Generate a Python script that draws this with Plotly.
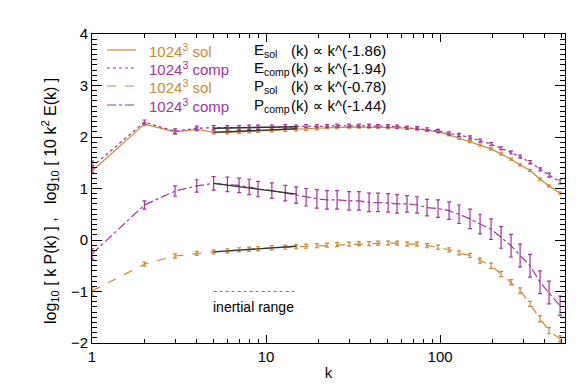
import plotly.graph_objects as go

# wavenumbers of the binned spectra
k = [1, 2, 3, 4, 5, 6, 7, 8, 9, 10.8, 12.9, 14.9, 17.0, 19.6, 22.4, 25.6, 30.0, 34.2,
     39.1, 44.0, 50.3, 56.6, 64.6, 73.8, 84.2, 97.4, 112.7, 128.6, 148.6, 169.8,
     196.4, 224.3, 255.9, 288.4, 328.9, 375.5, 423.0, 489.5]

# log10[10 k^2 E(k)]
e_sol = [1.34, 2.25, 2.10, 2.15, 2.09, 2.09, 2.10, 2.11, 2.12, 2.13, 2.14, 2.15, 2.16,
         2.17, 2.18, 2.18, 2.19, 2.19, 2.19, 2.19, 2.18, 2.18, 2.17, 2.16, 2.13, 2.10,
         2.04, 1.98, 1.91, 1.84, 1.77, 1.67, 1.57, 1.46, 1.35, 1.18, 1.05, 0.91]
e_comp = [1.42, 2.29, 2.11, 2.17, 2.18, 2.18, 2.18, 2.19, 2.19, 2.19, 2.20, 2.20, 2.21,
          2.21, 2.21, 2.22, 2.22, 2.22, 2.22, 2.21, 2.21, 2.20, 2.18, 2.17, 2.15, 2.12,
          2.07, 2.04, 1.99, 1.93, 1.86, 1.78, 1.70, 1.62, 1.51, 1.37, 1.26, 1.13]

# log10[k P(k)]
p_sol = [-0.99, -0.47, -0.31, -0.26, -0.23, -0.21, -0.19, -0.18, -0.17, -0.15, -0.14,
         -0.13, -0.12, -0.11, -0.10, -0.09, -0.08, -0.07, -0.07, -0.06, -0.06, -0.06,
         -0.08, -0.08, -0.11, -0.14, -0.19, -0.25, -0.30, -0.40, -0.50, -0.66, -0.82,
         -0.98, -1.24, -1.53, -1.76, -1.92]
p_comp = [-0.27, 0.68, 0.95, 1.05, 1.10, 1.08, 1.06, 1.03, 0.99, 0.96, 0.91, 0.87, 0.83,
          0.80, 0.78, 0.78, 0.76, 0.76, 0.73, 0.73, 0.72, 0.70, 0.70, 0.68, 0.63, 0.61,
          0.57, 0.50, 0.41, 0.31, 0.21, 0.05, -0.11, -0.30, -0.50, -0.82, -1.02, -1.28]

# error bars
e_sol_err = [0.05, 0.03, 0.04, 0.03, 0.03, 0.03, 0.03, 0.03, 0.03, 0.03, 0.03, 0.03, 0.03,
             0.03, 0.02, 0.02, 0.02, 0.02, 0.02, 0.02, 0.02, 0.02, 0.02, 0.02, 0.02, 0.02,
             0.02, 0.02, 0.02, 0.02, 0.02, 0.02, 0.02, 0.02, 0.02, 0.02, 0.02, 0.02]
e_comp_err = [0.11, 0.04, 0.05, 0.04, 0.04, 0.04, 0.04, 0.04, 0.04, 0.04, 0.04, 0.03, 0.03,
              0.03, 0.03, 0.03, 0.03, 0.03, 0.03, 0.03, 0.03, 0.03, 0.03, 0.03, 0.03, 0.03,
              0.03, 0.03, 0.03, 0.03, 0.03, 0.03, 0.03, 0.03, 0.03, 0.03, 0.04, 0.04]
p_sol_err = [0.08, 0.04, 0.04, 0.04, 0.04, 0.04, 0.04, 0.04, 0.04, 0.04, 0.04, 0.04, 0.04,
             0.04, 0.04, 0.04, 0.04, 0.04, 0.04, 0.04, 0.04, 0.04, 0.04, 0.04, 0.04, 0.04,
             0.04, 0.04, 0.04, 0.05, 0.05, 0.05, 0.05, 0.05, 0.05, 0.06, 0.06, 0.06]
p_comp_err = [0.10, 0.08, 0.10, 0.12, 0.13, 0.14, 0.14, 0.15, 0.15, 0.15, 0.15, 0.16, 0.17,
              0.18, 0.18, 0.18, 0.18, 0.18, 0.18, 0.18, 0.18, 0.18, 0.16, 0.16, 0.16, 0.17,
              0.17, 0.18, 0.19, 0.19, 0.20, 0.21, 0.22, 0.22, 0.22, 0.22, 0.22, 0.19]

# power-law fits over the inertial range
fit_k = [5, 15]
fit_e_sol = [2.09, 2.16]
fit_e_comp = [2.17, 2.20]
fit_p_sol = [-0.23, -0.12]
fit_p_comp = [1.10, 0.89]

labels = ["1024<sup>3</sup> sol", "1024<sup>3</sup> comp", "1024<sup>3</sup> sol", "1024<sup>3</sup> comp"]
fit_names = ["E<sub>sol</sub>", "E<sub>comp</sub>", "P<sub>sol</sub>", "P<sub>comp</sub>"]
fit_laws = ["(k) \u221d k^(-1.86)", "(k) \u221d k^(-1.94)", "(k) \u221d k^(-0.78)", "(k) \u221d k^(-1.44)"]

ORANGE = "#CC8833"
PURPLE = "#A035A0"
FONT = "Liberation Sans, Arial, DejaVu Sans"

series = [
    (e_sol, e_sol_err, ORANGE, "solid"),
    (e_comp, e_comp_err, PURPLE, "dot"),
    (p_sol, p_sol_err, ORANGE, "dash"),
    (p_comp, p_comp_err, PURPLE, "dashdot"),
]

fig = go.Figure()
for y, err, col, dash in series:
    fig.add_trace(go.Scatter(
        x=k, y=y, mode="lines",
        line=dict(color=col, width=1.2, dash=dash),
        error_y=dict(type="data", array=err, color=col, thickness=1.2, width=2),
        showlegend=False,
    ))

for fy in [fit_e_sol, fit_e_comp, fit_p_sol, fit_p_comp]:
    fig.add_trace(go.Scatter(x=fit_k, y=fy, mode="lines",
                             line=dict(color="#333333", width=1.4), showlegend=False))

# inertial range marker
fig.add_trace(go.Scatter(x=fit_k, y=[-1.0, -1.0], mode="lines",
                         line=dict(color="#777777", width=1.2, dash="dot"), showlegend=False))
fig.add_annotation(x=0.93, y=-1.3, xref="x", yref="y", text="inertial range",
                   showarrow=False, font=dict(size=14, color="black", family=FONT))

# hand-made legend
row_y = [42, 60, 78, 97]
dashes = ["solid", "dot", "dash", "dashdot"]
colors = [ORANGE, PURPLE, ORANGE, PURPLE]
for i in range(4):
    yp = 1 - (row_y[i] - 26) / (335 - 26)
    fig.add_shape(type="line", xref="paper", yref="paper",
                  x0=(99 - 84) / 473, x1=(128 - 84) / 473, y0=yp, y1=yp,
                  line=dict(color=colors[i], width=1.2, dash=dashes[i]))
    fig.add_annotation(xref="paper", yref="paper", x=(139 - 84) / 473, y=yp,
                       xanchor="left", yanchor="middle", showarrow=False,
                       text=labels[i], font=dict(size=15, color=colors[i], family=FONT))
    fig.add_annotation(xref="paper", yref="paper", x=(244 - 84) / 473, y=yp,
                       xanchor="left", yanchor="middle", showarrow=False,
                       text=fit_names[i], font=dict(size=15, color="black", family=FONT))
    fig.add_annotation(xref="paper", yref="paper", x=(281 - 84) / 473, y=yp,
                       xanchor="left", yanchor="middle", showarrow=False,
                       text=fit_laws[i], font=dict(size=15, color="black", family=FONT))

# y-axis title
fig.add_annotation(xref="paper", yref="paper", x=-(84 - 42) / 473, y=1 - (193 - 26) / 309,
                   text="log<sub>10</sub> [ k P(k) ] ,   log<sub>10</sub> [ 10 k<sup>2</sup> E(k) ]",
                   textangle=-90, showarrow=False, xanchor="center", yanchor="middle",
                   font=dict(size=16, color="black", family=FONT))

fig.update_xaxes(
    type="log", range=[0, 2.718],
    tickvals=[1, 10, 100], ticktext=["1", "10", "100"],
    ticks="inside", ticklen=8, tickcolor="black", tickwidth=1,
    minor=dict(ticks="inside", ticklen=4, tickcolor="black", dtick="D1", showgrid=False),
    showline=True, linecolor="black", linewidth=1, mirror="allticks",
    showgrid=False, zeroline=False,
    title=dict(text="k", font=dict(size=15, color="black", family=FONT), standoff=3),
    tickfont=dict(size=15, color="black", family=FONT),
)
fig.update_yaxes(
    range=[-2, 4], dtick=1,
    ticks="inside", ticklen=10, tickcolor="black", tickwidth=1,
    minor=dict(ticks="inside", ticklen=5, tickcolor="black", dtick=0.1, showgrid=False),
    showline=True, linecolor="black", linewidth=1, mirror="allticks",
    showgrid=False, zeroline=False,
    tickfont=dict(size=15, color="black", family=FONT),
)

fig.update_layout(
    width=581, height=387,
    margin=dict(l=84, r=24, t=26, b=52),
    plot_bgcolor="white", paper_bgcolor="white",
    font=dict(family=FONT, color="black"),
    showlegend=False,
)

fig.write_html("out.html")
